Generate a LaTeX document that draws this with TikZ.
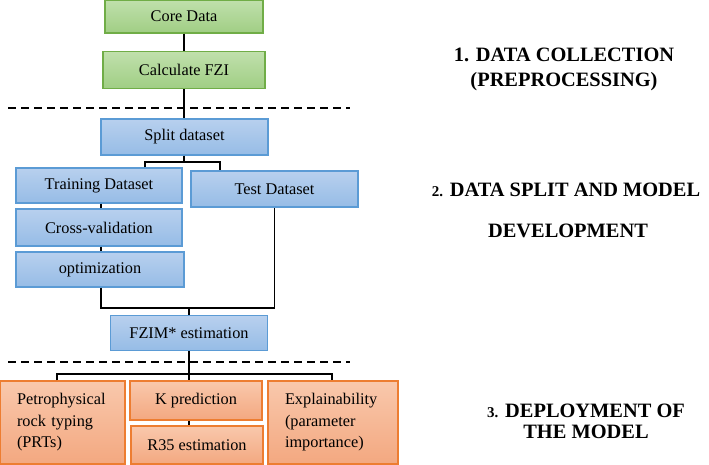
\documentclass[tikz,border=0pt]{standalone}
\usepackage{fontspec}
\setmainfont{Liberation Serif}
\usetikzlibrary{shadings}

\definecolor{grnline}{RGB}{112,173,71}
\definecolor{grntop}{RGB}{192,224,172}
\definecolor{grnbot}{RGB}{160,206,132}
\definecolor{bluline}{RGB}{91,155,213}
\definecolor{blutop}{RGB}{184,208,238}
\definecolor{blubot}{RGB}{150,188,230}
\definecolor{orgline}{RGB}{237,125,49}
\definecolor{orgtop}{RGB}{249,200,172}
\definecolor{orgbot}{RGB}{243,168,128}

\newcommand{\stageno}[1]{{\fontsize{15}{18}\selectfont #1}}

\tikzset{
  box/.style={draw, line width=1.2pt, inner sep=0pt, minimum height=35pt,
    font=\fontsize{16.3}{21.5}\selectfont},
  collect/.style={box, draw=grnline, top color=grntop, bottom color=grnbot},
  develop/.style={box, draw=bluline, top color=blutop, bottom color=blubot},
  deploy/.style={box, draw=orgline, top color=orgtop, bottom color=orgbot},
  link/.style={line width=1.1pt, black},
  cutline/.style={line width=1.6pt, dash pattern=on 8pt off 5pt},
  stage/.style={inner sep=0pt, anchor=base, font=\fontsize{20.4}{24}\selectfont\bfseries}
}

\begin{document}
\begin{tikzpicture}[x=1pt,y=1pt]
    \useasboundingbox (0,0) rectangle (709,-464);

    % data collection
    \node[collect, minimum width=158pt, minimum height=33pt] (core) at (184,-16.5) {Core Data};
    \node[collect, minimum width=162pt, minimum height=37pt] (fzi) at (184,-70) {Calculate FZI};

    % data split and model development
    \node[develop, minimum width=167pt, minimum height=36pt] (split) at (184.5,-137) {Split dataset};
    \node[develop, minimum width=166pt] (train) at (99,-185.5) {Training Dataset};
    \node[develop, minimum width=167pt, minimum height=36pt] (test) at (274.5,-189) {Test Dataset};
    \node[develop, minimum width=166pt, minimum height=37pt] (cross) at (99,-227.5) {Cross-validation};
    \node[develop, minimum width=168pt] (optim) at (100,-269.5) {optimization};
    \node[develop, minimum width=157pt] (fzim) at (189,-333) {FZIM* estimation};

    % deployment
    \node[deploy, minimum height=83pt, text width=91pt, inner xsep=17pt, align=left] (prt) at (62.5,-422.5) {Petrophysical\\rock typing\\(PRTs)};
    \node[deploy, minimum width=132pt, minimum height=39pt] (kpred) at (196,-400.5) {K prediction};
    \node[deploy, minimum width=132pt, minimum height=38pt] (r35) at (197,-445) {R35 estimation};
    \node[deploy, minimum height=83pt, text width=96pt, inner xsep=17pt, align=left] (expl) at (333,-422.5) {Explainability\\(parameter\\importance)};

    % stage titles
    \node[stage] (lab1a) at (564,-61.7) {1. DATA COLLECTION};
    \node[stage] (lab1b) at (564,-86.7) {(PREPROCESSING)};
    \node[stage] (lab2a) at (566,-196) {\stageno{2.} DATA SPLIT AND MODEL};
    \node[stage] (lab2b) at (568,-237) {DEVELOPMENT};
    \node[stage] (lab3a) at (586,-417) {\stageno{3.} DEPLOYMENT OF};
    \node[stage] (lab3b) at (586,-438) {THE MODEL};

    % separators
    \coordinate (cut1a) at (8,-108);
    \coordinate (cut1b) at (350,-108);
    \coordinate (cut2a) at (8,-362);
    \coordinate (cut2b) at (350,-362);
    \draw[cutline] (cut1a) -- (cut1b);
    \draw[cutline] (cut2a) -- (cut2b);

    % connectors
    \coordinate (splitfork) at (184,-162);
    \coordinate (mergept) at (189,-308);
    \coordinate (deployfork) at (189,-374);

    \draw[link] (core.south) -- (fzi.south |- core.south) -- (fzi.north);
    \draw[link] (fzi.south) -- (fzi.south |- split.north);
    \draw[link] (split.south -| splitfork) -- (splitfork);
    \draw[link] ([xshift=46pt]train.north) |- (splitfork) -| ([xshift=-54.5pt]test.north);
    \draw[link] ([xshift=2pt]train.south) -- ([xshift=2pt]cross.north);
    \draw[link] ([xshift=2pt]cross.south) -- ([xshift=1pt]optim.north);
    \draw[link] ([xshift=1pt]optim.south) |- (mergept) -| (test.south);
    \draw[link] (mergept) -- (mergept |- fzim.north);
    \draw[link] (fzim.south) -- (kpred.north -| deployfork);
    \draw[link] ([xshift=-5.5pt]prt.north) |- (deployfork) -| ([xshift=-1pt]expl.north);
    \draw[link] (kpred.south -| deployfork) -- (r35.north -| deployfork);
\end{tikzpicture}
\end{document}
